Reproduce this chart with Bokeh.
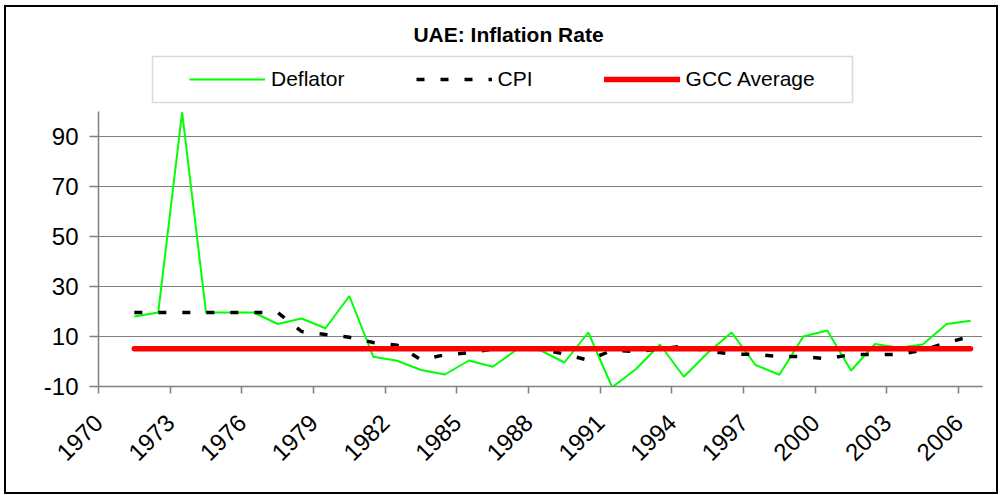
import math
from bokeh.plotting import figure
from bokeh.layouts import column
from bokeh.models import (ColumnDataSource, FixedTicker, Legend, LegendItem, Range1d,
                          Label, BoxAnnotation, CustomJSTickFormatter)
from bokeh.embed import file_html
from bokeh.resources import INLINE

# ---------------- data ----------------
years = [1971, 1972, 1973, 1974, 1975, 1976, 1977, 1978, 1979, 1980,
         1981, 1982, 1983, 1984, 1985, 1986, 1987, 1988, 1989, 1990,
         1991, 1992, 1993, 1994, 1995, 1996, 1997, 1998, 1999, 2000,
         2001, 2002, 2003, 2004, 2005, 2006]
deflator = [18.0, 19.6, 99.7, 19.6, 19.6, 19.6, 15.0, 17.2, 13.3, 26.2,
            1.9, 0.3, -3.4, -5.2, 0.4, -2.1, 4.7, 4.5, -0.4, 11.6,
            -10.3, -3.0, 6.8, -6.1, 3.5, 11.6, -1.4, -5.3, 10.0, 12.4,
            -3.6, 7.0, 5.5, 6.8, 15.0, 16.3]
cpi = [19.6, 19.6, 19.6, 19.6, 19.6, 19.6, 19.6, 12.0, 10.8, 9.7,
       7.6, 6.5, 0.7, 2.7, 3.5, 5.0, 5.0, 5.0, 3.0, 0.5,
       4.5, 4.0, 5.0, 6.2, 4.2, 3.0, 2.8, 2.0, 2.0, 1.1,
       2.8, 2.8, 2.8, 4.5, 7.5, 10.0]
gcc_average = [5.1, 5.1, 5.1, 5.1, 5.1, 5.1, 5.1, 5.1, 5.1, 5.1,
               5.1, 5.1, 5.1, 5.1, 5.1, 5.1, 5.1, 5.1, 5.1, 5.1,
               5.1, 5.1, 5.1, 5.1, 5.1, 5.1, 5.1, 5.1, 5.1, 5.1,
               5.1, 5.1, 5.1, 5.1, 5.1, 5.1]
x_label_years = [1970, 1973, 1976, 1979, 1982, 1985, 1988, 1991,
                 1994, 1997, 2000, 2003, 2006]
y_ticks = [-10, 10, 30, 50, 70, 90]
series_names = ["Deflator", "CPI", "GCC Average"]
title_text = "UAE: Inflation Rate"

FONT = "Liberation Sans"
GRAY = "#808080"
W = 990          # inner width (inside the black border)
H_TOP = 104      # band holding the title and the legend
H_MAIN = 381     # band holding the plot
FRAME_L, FRAME_R = 92, 976   # frame edges (shared by both bands, column-aligned)

STYLE = [dict(line_color="#00FF00", line_width=2),
         dict(line_color="black", line_width=3.5, line_dash="8 16"),
         dict(line_color="#FF0000", line_width=5.5, line_cap="round")]

# ---------------- top band: title + legend ----------------
top = figure(width=W, height=H_TOP, output_backend="svg", toolbar_location=None,
             x_range=Range1d(FRAME_L, FRAME_R), y_range=Range1d(0, H_TOP),
             x_axis_location=None, y_axis_location=None, title_location=None,
             min_border_left=FRAME_L, min_border_right=W - FRAME_R,
             min_border_top=0, min_border_bottom=0)
top.outline_line_color = None
top.grid.grid_line_color = None
top.background_fill_color = "white"
top.border_fill_color = "white"

top.add_layout(Label(x=502, y=77, text=title_text, text_align="center",
                     text_baseline="alphabetic", text_font=FONT,
                     text_font_style="bold", text_font_size="21px",
                     text_color="black"))
top.add_layout(BoxAnnotation(left=146, right=846, bottom=9, top=55,
                             fill_color="white", fill_alpha=1,
                             line_color=GRAY, line_width=1.5))
# legend proxies: one NaN point each, nothing visible is drawn by them
proxy_src = ColumnDataSource(dict(x=[float("nan")], y=[float("nan")]))
proxies = [top.line("x", "y", source=proxy_src, **s) for s in STYLE]
legend = Legend(items=[LegendItem(label=n, renderers=[r])
                       for n, r in zip(series_names, proxies)],
                orientation="horizontal", location=(91, 20), padding=11,
                spacing=71, glyph_width=76, glyph_height=22, label_standoff=6,
                label_height=22, label_text_font=FONT, label_text_font_size="21px",
                label_text_color="black",
                border_line_color=None, background_fill_alpha=0, margin=0)
top.add_layout(legend, "center")

# ---------------- main plot ----------------
p = figure(width=W, height=H_MAIN, output_backend="svg", toolbar_location=None,
           x_range=Range1d(1969.5, 2006.5), y_range=Range1d(-10, 100),
           title_location=None,
           min_border_left=FRAME_L, min_border_right=W - FRAME_R,
           min_border_top=0, min_border_bottom=106)
p.outline_line_color = None
p.background_fill_color = "white"
p.border_fill_color = "white"

src = ColumnDataSource(dict(year=years, deflator=deflator, cpi=cpi, gcc=gcc_average))
p.line("year", "deflator", source=src, **STYLE[0])
p.line("year", "cpi", source=src, **STYLE[1])
p.line("year", "gcc", source=src, **STYLE[2])

# x axis: labels near category centres, tick marks at category boundaries
boundaries = [y - 0.5 for y in x_label_years]
label_pos = [y - 0.5 for y in x_label_years]
xa = p.xaxis[0]
xa.ticker = FixedTicker(ticks=label_pos, minor_ticks=boundaries)
xa.formatter = CustomJSTickFormatter(code="return String(Math.round(tick + 0.5));")
xa.major_tick_out = 0
xa.major_tick_in = 0
xa.minor_tick_out = 7
xa.minor_tick_in = 0
xa.minor_tick_line_color = GRAY
xa.minor_tick_line_width = 1.5
xa.axis_line_color = GRAY
xa.axis_line_width = 1.5
xa.major_label_orientation = math.pi / 4
xa.major_label_text_font = FONT
xa.major_label_text_font_size = "24px"
xa.major_label_text_color = "black"
xa.major_label_standoff = 25

ya = p.yaxis[0]
ya.ticker = FixedTicker(ticks=y_ticks)
ya.formatter = CustomJSTickFormatter(code="return String(Math.round(tick));")
ya.major_tick_out = 9
ya.major_tick_in = 0
ya.minor_tick_out = 0
ya.minor_tick_in = 0
ya.major_tick_line_color = GRAY
ya.major_tick_line_width = 1.5
ya.axis_line_color = GRAY
ya.axis_line_width = 1.5
ya.major_label_text_font = FONT
ya.major_label_text_font_size = "24px"
ya.major_label_text_color = "black"
ya.major_label_standoff = 11

p.xgrid.grid_line_color = None
p.ygrid.ticker = FixedTicker(ticks=y_ticks)
p.ygrid.grid_line_color = GRAY
p.ygrid.grid_line_width = 1

layout = column(top, p, spacing=0,
                styles={"border": "2px solid black", "margin-left": "4px",
                        "margin-top": "5px", "box-sizing": "content-box"})

open("out.html", "w").write(file_html(layout, INLINE))
